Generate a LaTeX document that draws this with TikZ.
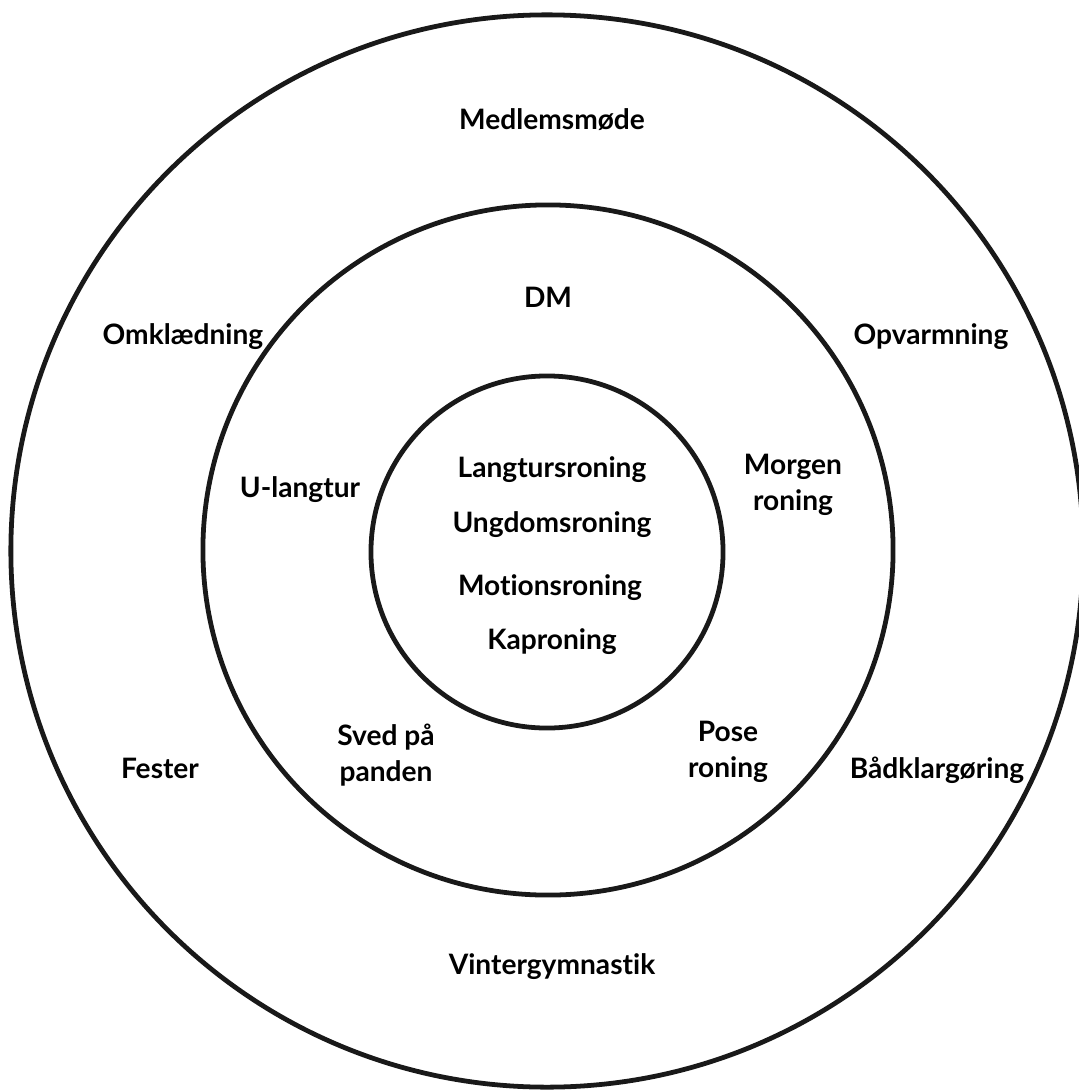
\documentclass[tikz,border=0pt]{standalone}
\usepackage{fontspec}
\setmainfont{Lato}[Ligatures=NoCommon]
\begin{document}
\begin{tikzpicture}
[x=0.025cm,y=-0.025cm,
  ringdecorate/.style={draw=black!90,line width=3.4pt},%
  labeldecorate/.style={font=\fontsize{20}{25.5}\selectfont\bfseries,align=center,inner sep=0pt}]
\useasboundingbox (0,0) rectangle (1078,1091);
%% rings
\draw[ringdecorate] (547,551) circle (13.4cm);
\draw[ringdecorate] (548,550) circle (8.625cm);
\draw[ringdecorate] (547,552) circle (4.4cm);
%% outer ring
\node (medlem) at (552,120) [labeldecorate] {Medlemsmøde};
\node (omklaed) at (183,337) [labeldecorate] {Omklædning};
\node (opvarm) at (931,337) [labeldecorate] {Opvarmning};
\node (fester) at (160,768) [labeldecorate] {Fester};
\node (baad) at (937,770) [labeldecorate] {Bådklargøring};
\node (vinter) at (552,967) [labeldecorate] {Vintergymnastik};
%% middle ring
\node (dm) at (548,297) [labeldecorate] {DM};
\node (ulang) at (300,490) [labeldecorate] {U-langtur};
\node (morgen) at (793,485) [labeldecorate] {Morgen\\roning};
\node (sved) at (386,755) [labeldecorate] {Sved på\\panden};
\node (pose) at (728,752) [labeldecorate] {Pose\\roning};
%% inner ring
\node (langtur) at (552,470) [labeldecorate] {Langtursroning};
\node (ungdom) at (552,525) [labeldecorate] {Ungdomsroning};
\node (motion) at (550,588) [labeldecorate] {Motionsroning};
\node (kap) at (552,642) [labeldecorate] {Kaproning};
\end{tikzpicture}
\end{document}
